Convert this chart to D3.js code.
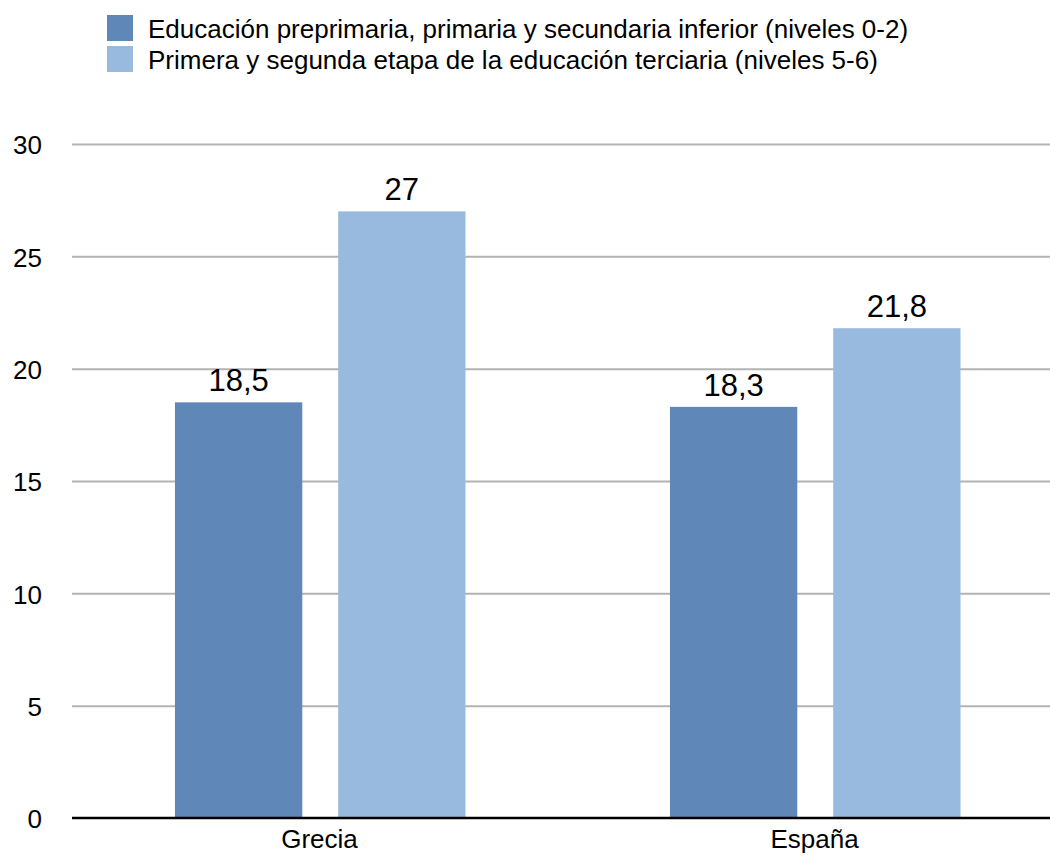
<!DOCTYPE html>
<html>
<head>
<meta charset="utf-8">
<script src="https://cdn.jsdelivr.net/npm/d3@7"></script>
<style>
  body { margin: 0; background: #fff; }
  text { font-family: "Liberation Sans", Arial, sans-serif; fill: #000; }
</style>
</head>
<body>
<div id="chart"></div>
<script>
const categories = ["Grecia", "España"];
const seriesNames = [
  "Educación preprimaria, primaria y secundaria inferior (niveles 0-2)",
  "Primera y segunda etapa de la educación terciaria (niveles 5-6)"
];
const seriesValues = [
  [18.5, 18.3],
  [27, 21.8]
];
const yTicks = [0, 5, 10, 15, 20, 25, 30];
const colors = ["#5f87b8", "#98bade"];

const width = 1050, height = 857;

const svg = d3.select("#chart")
  .append("svg")
  .attr("width", width)
  .attr("height", height);

const y = d3.scaleLinear().domain([0, 30]).range([818, 144]);

const x0 = d3.scaleBand()
  .domain(categories)
  .range([72, 1062])
  .padding(0);

const x1 = d3.scaleBand()
  .domain(d3.range(seriesNames.length))
  .range([x0.bandwidth() * 0.208, x0.bandwidth() * 0.795])
  .paddingInner(0.22);

// gridlines + tick labels
const yAxis = svg.append("g")
  .attr("transform", "translate(72,0)")
  .call(d3.axisLeft(y).tickValues(yTicks).tickSize(-(width - 72)).tickPadding(30));
yAxis.select(".domain").remove();
yAxis.selectAll(".tick line")
  .attr("stroke", "#b3b3b3")
  .attr("stroke-width", 2)
  .attr("display", d => d === 0 ? "none" : null);
yAxis.selectAll(".tick text")
  .style("font-size", "26px")
  .attr("dy", "0.38em")
  .attr("fill", "#000");

// bars
const rows = categories.map((c, i) => ({
  cat: c,
  vals: seriesValues.map((s, j) => ({ j, v: s[i] }))
}));

const groups = svg.append("g")
  .selectAll("g")
  .data(rows)
  .join("g")
  .attr("transform", d => `translate(${x0(d.cat)},0)`);

groups.selectAll("rect")
  .data(d => d.vals)
  .join("rect")
  .attr("x", d => x1(d.j))
  .attr("width", x1.bandwidth())
  .attr("y", d => y(d.v))
  .attr("height", d => y(0) - y(d.v))
  .attr("fill", d => colors[d.j]);

groups.selectAll("text.val")
  .data(d => d.vals)
  .join("text")
  .attr("class", "val")
  .attr("x", d => x1(d.j) + x1.bandwidth() / 2)
  .attr("y", d => y(d.v) - 11)
  .attr("text-anchor", "middle")
  .style("font-size", "31px")
  .text(d => String(d.v).replace(".", ","));

// x axis
const xAxis = svg.append("g")
  .attr("transform", `translate(0,${y(0)})`)
  .call(d3.axisBottom(x0).tickSize(0).tickPadding(12));
xAxis.select(".domain")
  .attr("d", `M72,0H${width}`)
  .attr("stroke", "#000")
  .attr("stroke-width", 2.5);
xAxis.selectAll(".tick text")
  .style("font-size", "26px")
  .attr("fill", "#000");

// legend
const legend = svg.append("g")
  .selectAll("g")
  .data(seriesNames)
  .join("g")
  .attr("transform", (d, i) => `translate(107,${15 + i * 31})`);
legend.append("rect")
  .attr("width", 26)
  .attr("height", 26)
  .attr("fill", (d, i) => colors[i]);
legend.append("text")
  .attr("x", 41)
  .attr("y", 23)
  .style("font-size", "26px")
  .text(d => d);
</script>
</body>
</html>
